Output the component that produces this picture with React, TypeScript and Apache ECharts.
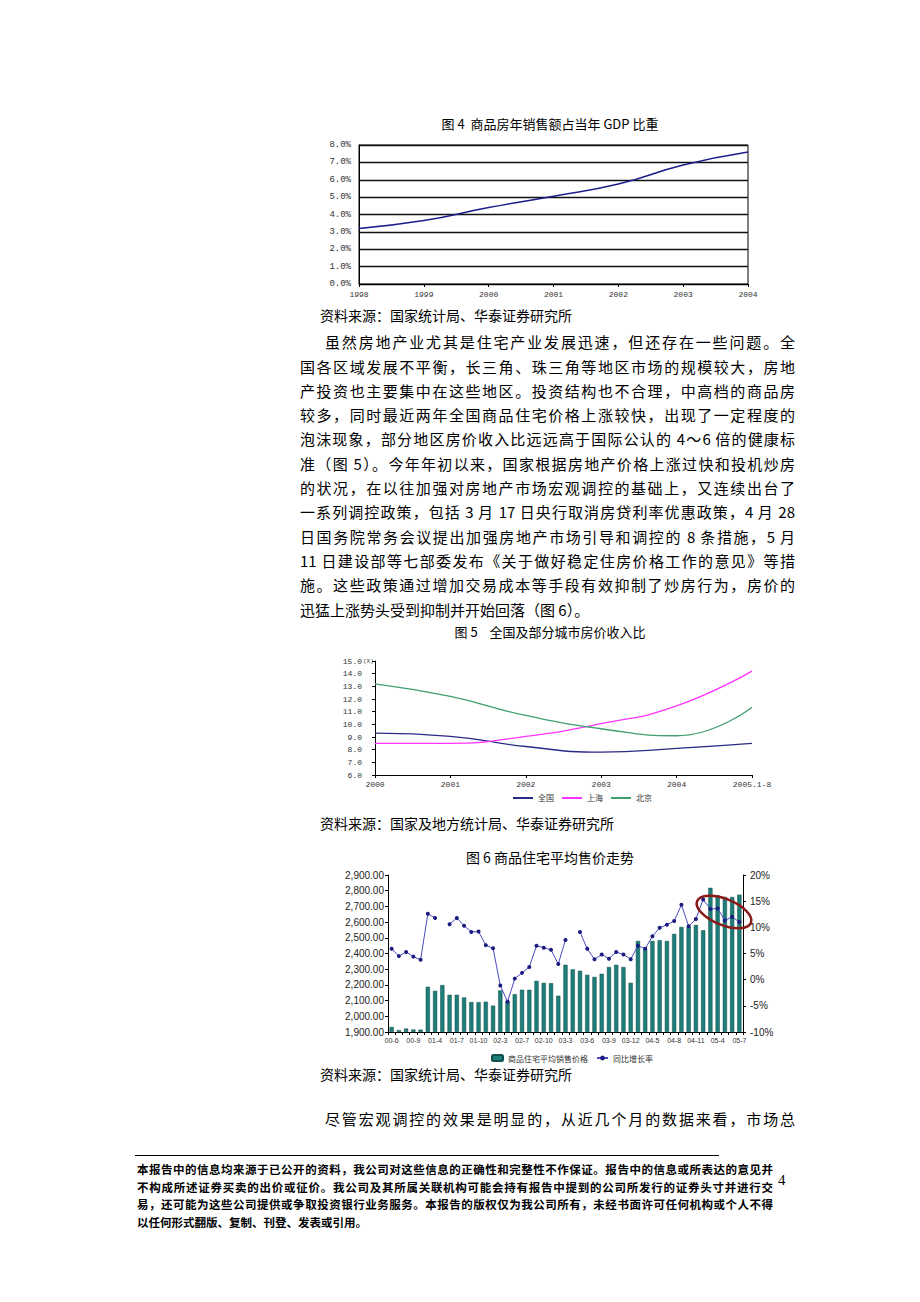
import React, { useEffect, useRef } from "react";
import * as echarts from "echarts";

// ---------- Figure 4 ----------
const gdpYears = ["1998", "1999", "2000", "2001", "2002", "2003", "2004"];
const gdpShare = [3.2, 3.65, 4.4, 5.05, 5.75, 6.85, 7.6];

// ---------- Figure 5 ----------
const ratioYears = ["2000", "2001", "2002", "2003", "2004", "2005.1-8"];
const ratioNational = [9.3, 9.05, 8.25, 7.8, 8.1, 8.5];
const ratioShanghai = [8.5, 8.5, 9.05, 10.05, 11.45, 14.2];
const ratioBeijing = [13.2, 12.2, 10.7, 9.65, 9.1, 11.35];

// ---------- Figure 6 ----------
const months = [
  "00-6", "00-7", "00-8", "00-9", "00-10", "00-11", "01-4", "01-5", "01-6", "01-7",
  "01-8", "01-9", "01-10", "01-11", "01-12", "02-3", "02-4", "02-5", "02-7", "02-8",
  "02-9", "02-10", "02-11", "02-12", "03-3", "03-4", "03-5", "03-6", "03-7", "03-8",
  "03-9", "03-10", "03-11", "03-12", "04-3", "04-4", "04-5", "04-6", "04-7", "04-8",
  "04-9", "04-10", "04-11", "04-12", "05-3", "05-4", "05-5", "05-6", "05-7",
];
const avgPrice = [
  1932, 1912, 1922, 1916, 1915, 2188, 2162, 2199, 2137, 2137,
  2120, 2091, 2090, 2093, 2068, 2165, 2097, 2141, 2169, 2169,
  2226, 2213, 2211, 2131, 2328, 2299, 2290, 2264, 2251, 2271,
  2314, 2328, 2314, 2213, 2480, 2427, 2480, 2485, 2480, 2525,
  2569, 2569, 2582, 2548, 2818, 2771, 2760, 2760, 2775,
];
const yoyGrowth = [
  5.9, 4.5, 5.3, 4.4, 3.8, 12.6, 11.8, null, 10.6, 11.8,
  10.3, 9.1, 9.2, 6.6, 6.0, -1.1, -4.2, 0.2, 1.3, 2.4,
  6.5, 6.1, 5.7, 3.0, 7.6, null, 9.1, 5.9, 3.9, 4.8,
  4.0, 5.3, 4.8, 3.9, 6.5, 5.9, 8.3, 9.9, 10.5, 11.2,
  14.3, 10.2, 11.6, 15.3, 13.5, 13.6, 11.3, 12.0, 11.0,
];

// ---------- Page text ----------
const bodyLines = [
  "虽然房地产业尤其是住宅产业发展迅速，但还存在一些问题。全",
  "国各区域发展不平衡，长三角、珠三角等地区市场的规模较大，房地",
  "产投资也主要集中在这些地区。投资结构也不合理，中高档的商品房",
  "较多，同时最近两年全国商品住宅价格上涨较快，出现了一定程度的",
  "泡沫现象，部分地区房价收入比远远高于国际公认的 4～6 倍的健康标",
  "准（图 5）。今年年初以来，国家根据房地产价格上涨过快和投机炒房",
  "的状况，在以往加强对房地产市场宏观调控的基础上，又连续出台了",
  "一系列调控政策，包括 3 月 17 日央行取消房贷利率优惠政策，4 月 28",
  "日国务院常务会议提出加强房地产市场引导和调控的 8 条措施，5 月",
  "11 日建设部等七部委发布《关于做好稳定住房价格工作的意见》等措",
  "施。这些政策通过增加交易成本等手段有效抑制了炒房行为，房价的",
  "迅猛上涨势头受到抑制并开始回落（图 6）。",
];
const lastParagraph = "尽管宏观调控的效果是明显的，从近几个月的数据来看，市场总";
const footerLines = [
  "本报告中的信息均来源于已公开的资料，我公司对这些信息的正确性和完整性不作保证。报告中的信息或所表达的意见并",
  "不构成所述证券买卖的出价或征价。我公司及其所属关联机构可能会持有报告中提到的公司所发行的证券头寸并进行交",
  "易，还可能为这些公司提供或争取投资银行业务服务。本报告的版权仅为我公司所有，未经书面许可任何机构或个人不得",
  "以任何形式翻版、复制、刊登、发表或引用。",
];

const cjk = '"Noto Sans CJK SC", sans-serif';
const mono = '"Liberation Mono", "DejaVu Sans Mono", monospace';
const sans = '"Liberation Sans", Arial, sans-serif';

function fmtPrice(v: number) {
  const s = Math.round(v).toString().replace(/\B(?=(\d{3})+(?!\d))/g, ",");
  return s + ".00";
}

function buildOption() {
  const axisBlack = { color: "#000", width: 1 };
  return {
    animation: false,
    backgroundColor: "#fff",
    grid: [
      { left: 359, top: 145, width: 389, height: 139, show: true, borderColor: "#000", borderWidth: 1, backgroundColor: "transparent" },
      { left: 375, top: 661, width: 377, height: 114 },
      { left: 388, top: 875, width: 355, height: 157 },
    ],
    xAxis: [
      {
        type: "category", gridIndex: 0, data: gdpYears, boundaryGap: false,
        axisLine: { onZero: false, lineStyle: axisBlack },
        axisTick: { show: true, length: 3, lineStyle: axisBlack },
        axisLabel: { fontFamily: mono, fontSize: 8, color: "#333", margin: 6 },
      },
      {
        type: "category", gridIndex: 1, data: ratioYears, boundaryGap: false,
        axisLine: { onZero: false, lineStyle: axisBlack },
        axisTick: { show: true, length: 3, lineStyle: axisBlack },
        axisLabel: { fontFamily: mono, fontSize: 8, color: "#333", margin: 5 },
      },
      {
        type: "category", gridIndex: 2, data: months, boundaryGap: true,
        axisLine: { onZero: false, lineStyle: axisBlack },
        axisTick: { show: true, interval: 0, length: 3, lineStyle: axisBlack },
        axisLabel: { interval: 2, fontFamily: sans, fontSize: 7, color: "#333", margin: 5 },
      },
    ],
    yAxis: [
      {
        type: "value", gridIndex: 0, min: 0, max: 8, interval: 1,
        axisLine: { show: true, lineStyle: axisBlack },
        axisTick: { show: false },
        splitLine: { show: true, lineStyle: { color: "#111", width: 1.3 } },
        axisLabel: { formatter: (v: number) => v.toFixed(1) + "%", fontFamily: mono, fontSize: 9, color: "#333", margin: 8 },
      },
      {
        type: "value", gridIndex: 1, min: 6, max: 15, interval: 1,
        axisLine: { show: true, lineStyle: axisBlack },
        axisTick: { show: true, length: 3, lineStyle: axisBlack },
        splitLine: { show: false },
        axisLabel: { formatter: (v: number) => v.toFixed(1), fontFamily: mono, fontSize: 8, color: "#333", margin: 13 },
      },
      {
        type: "value", gridIndex: 2, position: "left", min: 1900, max: 2900, interval: 100, startValue: 1900,
        axisLine: { show: true, lineStyle: axisBlack },
        axisTick: { show: true, length: 3, lineStyle: axisBlack },
        splitLine: { show: false },
        axisLabel: { formatter: fmtPrice, fontFamily: sans, fontSize: 10, color: "#222", margin: 4 },
      },
      {
        type: "value", gridIndex: 2, position: "right", min: -10, max: 20, interval: 5,
        axisLine: { show: true, lineStyle: axisBlack },
        axisTick: { show: true, length: 3, lineStyle: axisBlack },
        splitLine: { show: false },
        axisLabel: { formatter: (v: number) => v + "%", fontFamily: sans, fontSize: 10, color: "#222", margin: 7 },
      },
    ],
    legend: [
      {
        data: [
          { name: "全国", icon: "rect" },
          { name: "上海", icon: "rect" },
          { name: "北京", icon: "rect" },
        ],
        left: 508, top: 789,
        itemWidth: 20, itemHeight: 2, itemGap: 8,
        textStyle: { fontSize: 8, fontFamily: cjk, color: "#333" },
      },
      {
        data: ["商品住宅平均销售价格", "同比增长率"], left: 486, top: 1049,
        itemWidth: 11, itemHeight: 6, itemGap: 8,
        textStyle: { fontSize: 8, fontFamily: cjk, color: "#333" },
      },
    ],
    series: [
      {
        type: "line", name: "商品房销售额占GDP比重", xAxisIndex: 0, yAxisIndex: 0,
        data: gdpShare, smooth: true, symbol: "none",
        lineStyle: { color: "#1c1c8a", width: 1.5 }, itemStyle: { color: "#1c1c8a" },
      },
      {
        type: "line", name: "全国", xAxisIndex: 1, yAxisIndex: 1, data: ratioNational,
        smooth: true, symbol: "none", lineStyle: { color: "#2a2a88", width: 1.3 }, itemStyle: { color: "#2a2a88" },
      },
      {
        type: "line", name: "上海", xAxisIndex: 1, yAxisIndex: 1, data: ratioShanghai,
        smooth: true, symbol: "none", lineStyle: { color: "#ff33ff", width: 1.3 }, itemStyle: { color: "#ff33ff" },
      },
      {
        type: "line", name: "北京", xAxisIndex: 1, yAxisIndex: 1, data: ratioBeijing,
        smooth: true, symbol: "none", lineStyle: { color: "#3f9f6f", width: 1.3 }, itemStyle: { color: "#3f9f6f" },
      },
      {
        type: "bar", name: "商品住宅平均销售价格", xAxisIndex: 2, yAxisIndex: 2, data: avgPrice,
        barWidth: "58%", clip: true,
        itemStyle: { color: "#1e7d78", borderColor: "#0f4f4c", borderWidth: 0.5 },
      },
      {
        type: "line", name: "同比增长率", xAxisIndex: 2, yAxisIndex: 3, data: yoyGrowth,
        symbol: "circle", symbolSize: 4, connectNulls: false, z: 5,
        lineStyle: { color: "#4a4ac0", width: 1 }, itemStyle: { color: "#1a1a80" },
      },
    ],
    graphic: [
      {
        type: "text", x: 550, y: 123,
        style: { text: "图 4  商品房年销售额占当年 GDP 比重", fontSize: 13, fontFamily: cjk, fill: "#000", textAlign: "center", textVerticalAlign: "middle" },
      },
      {
        type: "text", x: 550, y: 631,
        style: { text: "图 5    全国及部分城市房价收入比", fontSize: 13, fontFamily: cjk, fill: "#000", textAlign: "center", textVerticalAlign: "middle" },
      },
      {
        type: "text", x: 550, y: 857,
        style: { text: "图 6 商品住宅平均售价走势", fontSize: 14, fontFamily: cjk, fill: "#000", textAlign: "center", textVerticalAlign: "middle" },
      },
      {
        type: "text", x: 363, y: 661,
        style: { text: "(X)", fontSize: 6, fontFamily: mono, fill: "#333", textAlign: "left", textVerticalAlign: "middle" },
      },
      {
        type: "ellipse", x: 724, y: 912, rotation: -0.38, z: 100,
        shape: { cx: 0, cy: 0, rx: 29, ry: 13 },
        style: { fill: "transparent", stroke: "#8b1a1a", lineWidth: 2.5 },
      },
    ],
  };
}

type LineProps = {
  text: string; left: number; center: number; width?: number;
  size: number; justify?: boolean; bold?: boolean; lh?: number;
};

function TextLine({ text, left, center, width, size, justify, bold, lh }: LineProps) {
  const lineH = lh ?? size + 4;
  return (
    <div
      style={{
        position: "absolute",
        left,
        top: center - lineH / 2,
        width: width ?? undefined,
        height: lineH,
        lineHeight: lineH + "px",
        fontSize: size,
        fontFamily: cjk,
        fontWeight: bold ? 700 : 400,
        color: "#000",
        textAlign: justify ? "justify" : "left",
        textAlignLast: justify ? "justify" : "left",
        whiteSpace: justify ? "normal" : "nowrap",
        pointerEvents: "none",
      } as React.CSSProperties}
    >
      {text}
    </div>
  );
}

export default function App() {
  const ref = useRef<HTMLDivElement>(null);
  useEffect(() => {
    if (!ref.current) return;
    const chart = echarts.init(ref.current, null, { renderer: "svg" });
    chart.setOption(buildOption() as any);
    return () => chart.dispose();
  }, []);

  return (
    <div style={{ position: "absolute", left: 0, top: 0, width: 920, height: 1302, background: "#fff", overflow: "hidden" }}>
      <div ref={ref} style={{ position: "absolute", left: 0, top: 0, width: 920, height: 1302 }} />
      <TextLine text="资料来源：国家统计局、华泰证券研究所" left={320} center={315} size={14} />
      {bodyLines.map((t, i) => (
        <TextLine
          key={i}
          text={t}
          left={i === 0 ? 325 : 300}
          width={i === 0 ? 470 : i === bodyLines.length - 1 ? undefined : 495}
          center={341.7 + 24.3 * i}
          size={15}
          justify={i !== bodyLines.length - 1}
        />
      ))}
      <TextLine text="资料来源：国家及地方统计局、华泰证券研究所" left={320} center={823} size={14} />
      <TextLine text="资料来源：国家统计局、华泰证券研究所" left={320} center={1074} size={14} />
      <TextLine text={lastParagraph} left={325} width={470} center={1118} size={15} justify />
      <div style={{ position: "absolute", left: 135, top: 1155, width: 584, height: 1, background: "#000" }} />
      {footerLines.map((t, i) => (
        <TextLine
          key={"f" + i}
          text={t}
          left={137}
          width={i === footerLines.length - 1 ? undefined : 636}
          center={1170 + 17.5 * i}
          size={11.5}
          bold
          justify={i !== footerLines.length - 1}
        />
      ))}
      <div style={{ position: "absolute", left: 778, top: 1172, fontSize: 15, fontFamily: '"Liberation Serif", serif', color: "#000" }}>4</div>
    </div>
  );
}
